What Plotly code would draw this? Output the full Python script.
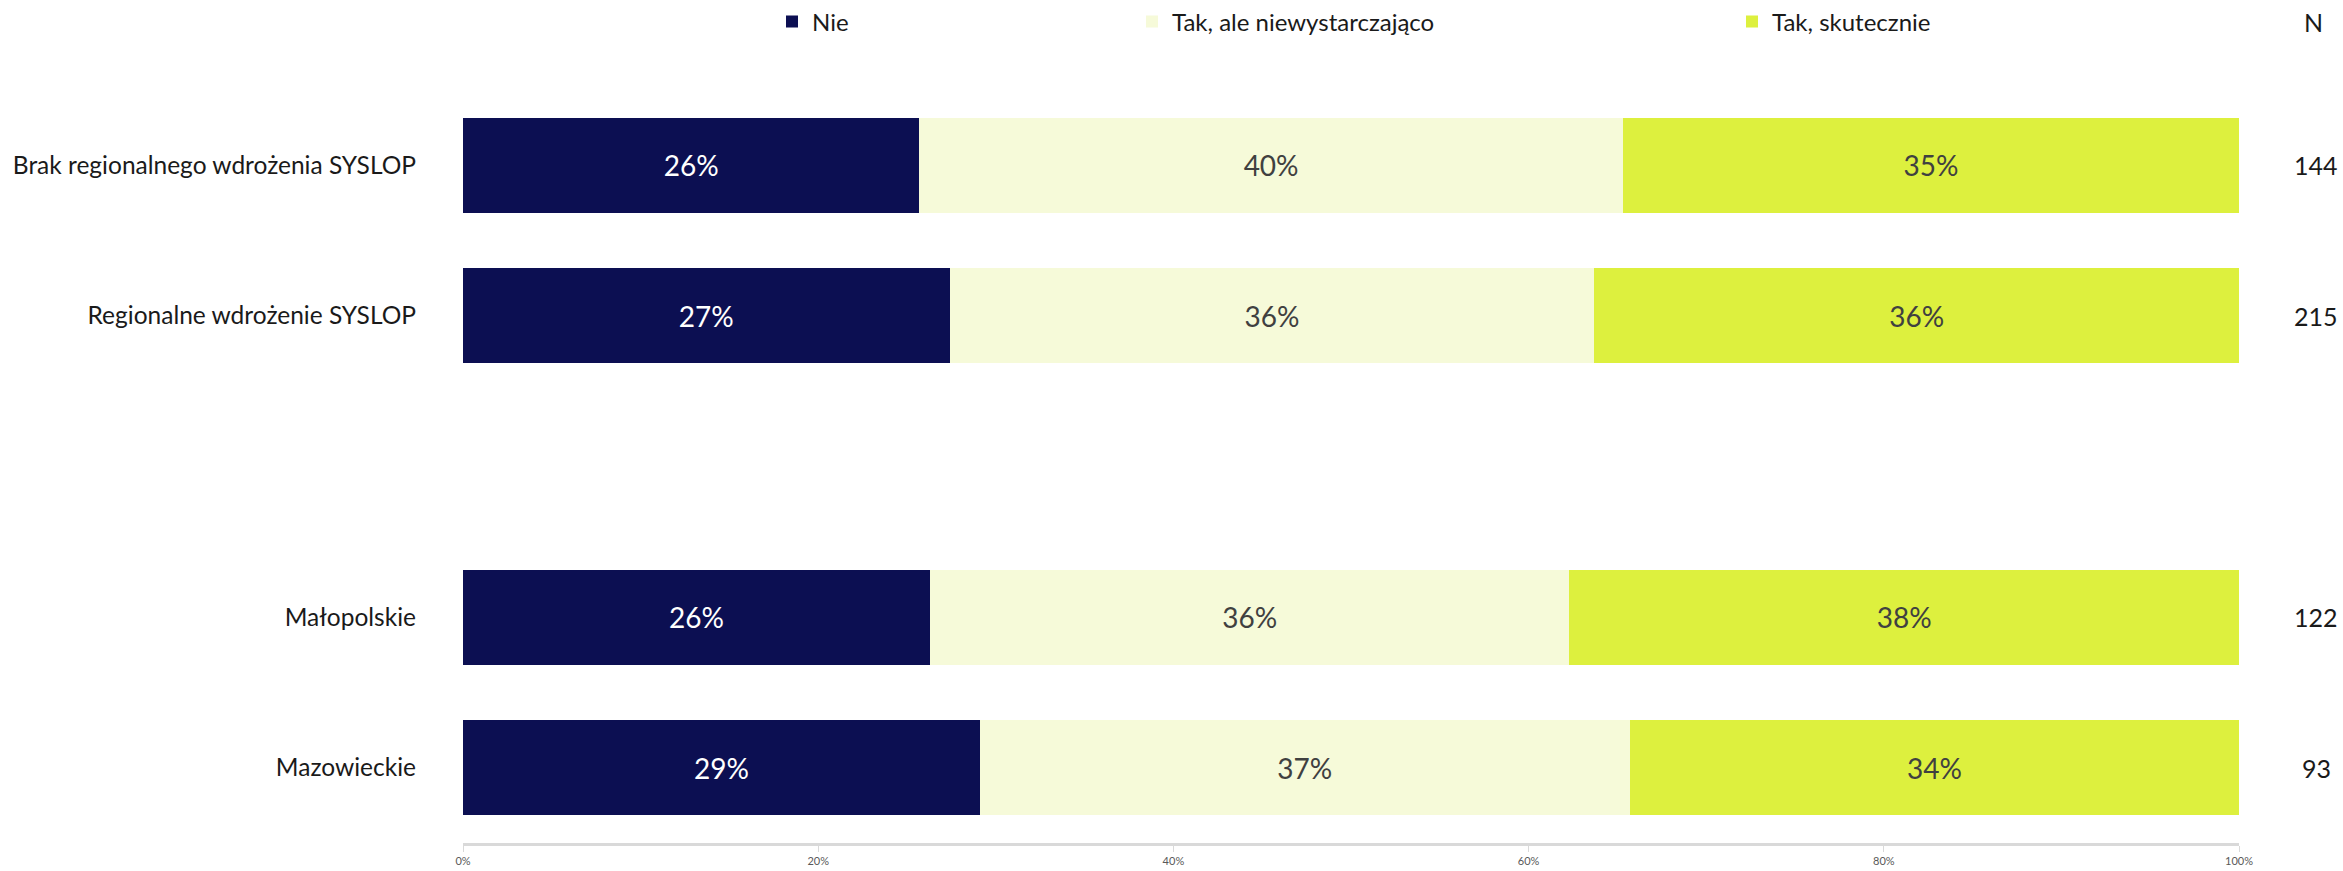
import plotly.graph_objects as go

categories = ["Brak regionalnego wdrożenia SYSLOP", "Regionalne wdrożenie SYSLOP",
              "Małopolskie", "Mazowieckie"]
slot_order = ["Brak regionalnego wdrożenia SYSLOP", "Regionalne wdrożenie SYSLOP", " ",
              "Małopolskie", "Mazowieckie"]
series_names = ["Nie", "Tak, ale niewystarczająco", "Tak, skutecznie"]
nie = [25.7, 27.4, 26.3, 29.1]
tak_ale = [39.6, 36.3, 36.0, 36.6]
tak_skut = [34.7, 36.3, 37.7, 34.3]
n_values = [144, 215, 122, 93]
x_ticks = [0, 20, 40, 60, 80, 100]
x_ticklabels = ["0%", "20%", "40%", "60%", "80%", "100%"]

colors = ["#0c0f52", "#f6fad9", "#ddf03e"]
text_colors = ["#ffffff", "#404040", "#404040"]
legend_widths = [315, 555, 300]
FONT = "Lato, 'Open Sans', sans-serif"

fig = go.Figure()
for name, vals, col, tcol, lw in zip(series_names, [nie, tak_ale, tak_skut], colors,
                                      text_colors, legend_widths):
    fig.add_trace(go.Bar(
        y=categories, x=vals, name=name, orientation="h",
        marker=dict(color=col, line=dict(width=0)),
        texttemplate="%{x:.0f}%", textposition="inside", insidetextanchor="middle",
        textangle=0,
        textfont=dict(family=FONT, size=28, color=tcol),
        legendwidth=lw, hoverinfo="skip",
    ))

for cat, n in zip(categories, n_values):
    fig.add_annotation(x=1.0435, xref="paper", y=cat, yref="y", text=str(n),
                       showarrow=False, xanchor="center",
                       font=dict(family=FONT, size=25, color="#1a1a1a"))
fig.add_annotation(x=1.0417, xref="paper", y=1.09, yref="paper",
                   text="N", showarrow=False, xanchor="center", yanchor="middle",
                   font=dict(family=FONT, size=25, color="#1a1a1a"))

fig.update_layout(
    width=2343, height=871,
    barmode="stack", bargap=0.37,
    paper_bgcolor="white", plot_bgcolor="white",
    margin=dict(l=463, r=104, t=90, b=28),
    font=dict(family=FONT, color="#1a1a1a"),
    showlegend=True,
    legend=dict(orientation="h", xref="container", yref="container",
                x=772 / 2343, y=1 - 22 / 871, xanchor="left", yanchor="middle",
                font=dict(family=FONT, size=24, color="#1a1a1a"),
                traceorder="normal", itemclick=False, itemdoubleclick=False),
    xaxis=dict(range=[0, 100], tickvals=x_ticks, ticktext=x_ticklabels,
               showgrid=False, zeroline=False, showline=True, automargin=False,
               linecolor="#d9d9d9", linewidth=3,
               ticks="outside", ticklen=6, tickcolor="#d9d9d9", tickwidth=1,
               tickfont=dict(family=FONT, size=11, color="#595959")),
    yaxis=dict(type="category", categoryorder="array", categoryarray=slot_order,
               range=[4.5, -0.5], showgrid=False, zeroline=False, showline=False,
               ticks="", ticklabelstandoff=46, automargin=False,
               tickfont=dict(family=FONT, size=24.5, color="#1a1a1a")),
)

fig.write_html("out.html", config={"displayModeBar": False},
               post_script="document.body.style.margin='0';")
